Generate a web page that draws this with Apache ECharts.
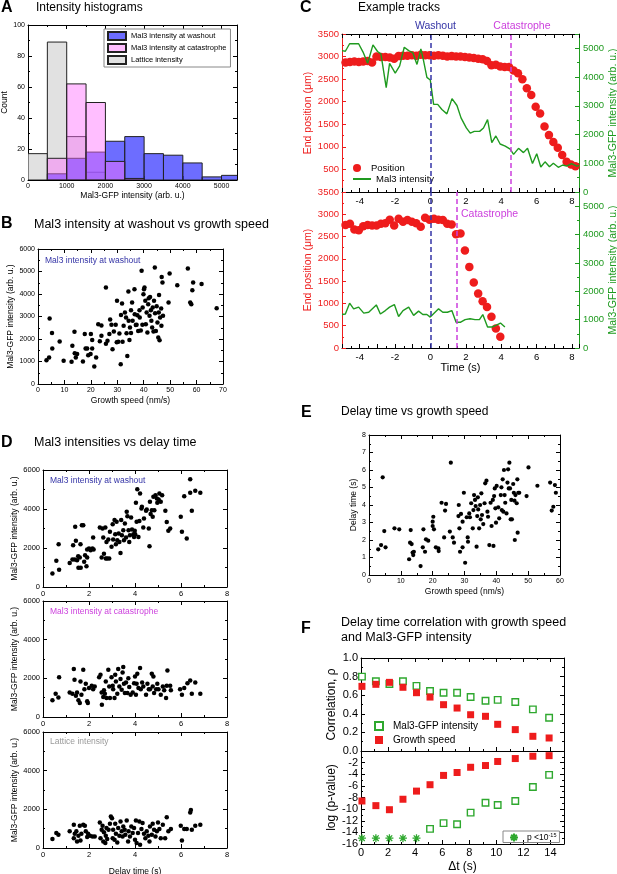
<!DOCTYPE html>
<html>
<head>
<meta charset="utf-8">
<title>Mal3 intensity figure</title>
<script src="https://cdn.jsdelivr.net/npm/echarts@6/dist/echarts.min.js"></script>
<style>
  html, body { margin: 0; padding: 0; background: #fff; }
  #fig { width: 617px; height: 874px; }
</style>
</head>
<body>
<div id="fig"></div>
<script>
var FONT = '"Liberation Sans", Arial, sans-serif';
var RED = '#ee1c1c', GREEN = '#1f9a1f', FGREEN = '#2ea82e', BLUE = '#3434a6', MAGENTA = '#cc3fdd', GRAY = '#9a9a9a';

// A - histograms (bins of 500)
var binLeft  = [0, 500, 1000, 1500, 2000, 2500, 3000, 3500, 4000, 4500, 5000];
var binRight = [500, 1000, 1500, 2000, 2500, 3000, 3500, 4000, 4500, 5000, 5500];
var washoutCounts     = [0, 4, 14, 18, 25, 28, 17, 16, 11, 2, 3];
var catastropheCounts = [0, 14, 62, 50, 12, 1, 0, 0, 0, 0, 0];
var latticeCounts     = [17, 89, 28, 5, 0, 0, 0, 0, 0, 0, 0];

// B - washout intensity vs growth speed
var bWashout = [[3.2,1060],[4.2,1180],[4.4,2910],[5.3,2270],[5.4,1580],[8.2,1890],[9.7,1030],[12.7,990],[13.0,1700],[13.8,2320],[13.9,1370],[14.3,1180],[14.8,1330],[17.0,1000],[17.7,2220],[18.0,1580],[18.6,1580],[19.0,1280],[20.0,2220],[19.9,1330],[20.5,1960],[20.5,1580],[21.3,780],[22.0,1180],[22.8,2660],[24.0,2600],[23.4,1900],[24.0,2140],[25.7,4290],[25.7,1790],[26.3,1920],[27.0,2220],[27.3,2870],[27.8,2630],[28.2,1550],[28.7,2330],[29.4,2630],[29.9,3700],[29.8,1860],[30.4,1880],[30.8,2250],[31.3,880],[31.4,3070],[31.8,3580],[32.0,1880],[32.4,2590],[32.9,3180],[33.3,2960],[33.5,2260],[33.8,1250],[34.2,4110],[34.3,2810],[34.6,1960],[34.8,2510],[35.2,2270],[35.2,3280],[35.6,3620],[35.8,2810],[36.5,4210],[36.6,3100],[37.0,2620],[37.3,2630],[37.6,3060],[37.9,2360],[38.4,3280],[38.5,2960],[38.9,2380],[39.2,5030],[39.5,2630],[39.6,3400],[39.9,3990],[40.1,4210],[40.3,4290],[40.6,3700],[40.8,2660],[41.1,3180],[41.4,2290],[41.7,3550],[41.9,3810],[42.2,3030],[42.4,3870],[42.7,3280],[42.9,2810],[43.2,2510],[43.7,2330],[43.4,3400],[43.9,3700],[44.2,5180],[44.3,3140],[44.6,2360],[44.9,3460],[45.2,2730],[45.5,2070],[45.7,3180],[45.8,3960],[46.0,1950],[46.2,2960],[46.6,3360],[46.8,4760],[47.1,4510],[47.3,3030],[46.7,2590],[49.4,3620],[49.8,4910],[52.7,4390],[56.7,5130],[57.6,3620],[58.0,3550],[58.4,4170],[58.7,4510],[61.9,4440],[67.6,3370]];

// C - example tracks
var cTopPosT = [-4.8,-4.55,-4.3,-4.05,-3.8,-3.55,-3.3,-3.05,-2.8,-2.55,-2.3,-2.05,-1.8,-1.55,-1.3,-1.05,-0.8,-0.55,-0.3,-0.05,0.2,0.45,0.7,0.95,1.2,1.45,1.7,1.95,2.2,2.45,2.7,2.95,3.2,3.45,3.7,3.95,4.2,4.45,4.7,4.95,5.2,5.45,5.7,5.95,6.2,6.45,6.7,6.95,7.2,7.45,7.7,7.95,8.2];
var cTopPos  = [2870,2880,2890,2880,2890,2900,2870,3000,2990,2990,2980,2950,3010,3020,3020,3030,3020,3040,3030,3030,3020,3030,3020,3000,3010,3000,3000,2990,2980,2970,2950,2940,2900,2810,2820,2780,2770,2770,2690,2630,2500,2300,2150,1890,1740,1450,1260,1110,980,820,670,610,570];
var cTopIntT = [-5.0,-4.81,-4.57,-4.06,-3.81,-3.55,-3.25,-2.99,-2.8,-2.5,-2.31,-1.99,-1.74,-1.48,-1.23,-0.99,-0.76,-0.54,-0.39,-0.2,-0.01,0.18,0.41,0.65,0.93,1.22,1.5,1.73,2.03,2.25,2.48,2.78,3.0,3.23,3.47,3.7,3.94,4.23,4.51,4.7,4.98,5.26,5.49,5.77,6.01,6.24,6.48,6.73,6.95,7.23,7.48,7.7,7.98,8.27,8.4];
var cTopInt  = [4920,4900,5160,5160,4870,4480,5120,4890,4810,3630,4480,4140,4390,5040,4920,4840,4440,4980,4570,3990,3900,3050,3050,2870,2720,3250,3010,2580,2230,2050,2110,2110,2230,2520,1720,1950,1670,1600,1490,1310,1520,1370,1520,990,1330,870,1050,880,1000,860,940,900,990,900,920];
var cBotPosT = [-4.8,-4.55,-4.3,-4.05,-3.8,-3.55,-3.3,-3.05,-2.8,-2.55,-2.3,-2.05,-1.8,-1.55,-1.3,-1.05,-0.8,-0.55,-0.3,-0.05,0.2,0.45,0.7,0.95,1.2,1.45,1.7,1.95,2.2,2.45,2.7,2.95,3.2,3.45,3.7,3.95];
var cBotPos  = [2760,2790,2660,2640,2730,2760,2750,2750,2790,2800,2880,2750,2900,2830,2870,2830,2800,2720,2920,2880,2900,2880,2870,2790,2770,2550,2570,2190,1820,1470,1220,1050,920,700,435,250];
var cBotIntT = [-5.0,-4.81,-4.57,-4.34,-4.06,-3.77,-3.49,-3.06,-2.83,-2.55,-2.31,-2.04,-1.8,-1.55,-1.23,-0.95,-0.67,-0.43,-0.2,-0.01,0.46,0.7,0.96,1.21,1.45,1.71,1.96,2.24,2.52,2.77,2.96,3.23,3.47,3.7,3.96,4.21];
var cBotInt  = [1180,1200,1580,1380,1440,1230,1260,1520,1200,1320,1440,1530,1110,1320,1440,1150,1300,1180,1180,1090,1380,1260,1260,1320,910,910,1000,1030,1000,1000,1180,740,740,800,880,740];
var washoutTime = 0, catastropheTop = 4.55, catastropheBottom = 1.5;

// D - intensities vs delay time
var dWashout = [[0.41,690],[0.58,1340],[0.68,2190],[0.7,890],[1.16,1230],[1.28,1410],[1.31,2140],[1.38,1410],[1.4,3090],[1.43,2370],[1.48,1370],[1.53,1580],[1.54,990],[1.6,1510],[1.63,2190],[1.64,990],[1.69,3170],[1.75,3170],[1.79,1290],[1.83,1630],[1.89,1060],[1.92,1510],[1.92,1920],[2.0,1970],[2.07,1890],[2.15,1970],[2.18,2540],[2.2,1920],[2.47,3050],[2.55,1510],[2.59,3000],[2.62,2540],[2.65,1710],[2.71,3050],[2.73,1460],[2.76,2310],[2.79,1460],[2.84,2430],[2.88,1460],[2.91,2830],[2.98,2060],[3.03,3220],[3.05,2430],[3.11,3430],[3.14,2710],[3.17,2190],[3.2,3340],[3.23,2400],[3.29,2740],[3.32,2310],[3.37,1750],[3.4,3430],[3.43,2660],[3.49,2910],[3.52,2400],[3.56,3260],[3.61,2540],[3.64,3860],[3.67,3630],[3.72,2910],[3.75,2310],[3.78,2660],[3.83,3570],[3.87,2950],[3.93,2710],[3.96,2570],[3.99,2880],[4.01,2710],[4.04,4320],[4.07,3340],[4.1,5010],[4.15,2570],[4.19,3390],[4.22,4800],[4.28,4030],[4.3,4110],[4.36,3050],[4.39,3510],[4.48,3910],[4.51,3980],[4.6,3000],[4.63,2090],[4.65,4370],[4.68,3740],[4.73,3940],[4.77,3600],[4.8,4630],[4.84,3940],[4.89,4710],[4.95,4540],[4.97,4320],[5.03,4490],[5.06,4800],[5.12,4370],[5.18,4710],[5.32,3910],[5.38,3330],[5.45,2880],[5.53,3000],[5.99,3600],[6.04,2830],[6.14,4660],[6.25,2490],[6.4,5520],[6.4,4830],[6.47,3910],[6.62,4940],[6.84,4830]];
var dCatastrophe = [[0.41,860],[0.55,1200],[0.67,1010],[0.7,2060],[1.16,1270],[1.28,1200],[1.34,2480],[1.37,1930],[1.43,1100],[1.48,1270],[1.54,860],[1.6,720],[1.63,1840],[1.67,1150],[1.75,2440],[1.8,1440],[1.86,1720],[1.92,810],[1.95,720],[2.0,1500],[2.12,1620],[2.18,1440],[2.25,1580],[2.44,2060],[2.5,2180],[2.55,1270],[2.56,640],[2.62,1030],[2.65,1380],[2.69,1200],[2.73,1840],[2.76,980],[2.84,2440],[2.88,1580],[2.91,980],[2.98,2060],[3.03,1620],[3.05,1440],[3.11,980],[3.14,2180],[3.17,1840],[3.23,1200],[3.27,2480],[3.32,1580],[3.37,1960],[3.42,1410],[3.46,2300],[3.49,2580],[3.52,1720],[3.56,1240],[3.61,1790],[3.67,1240],[3.71,2010],[3.75,1550],[3.81,1150],[3.9,1270],[3.96,1750],[4.0,2100],[4.04,1150],[4.07,1720],[4.1,2240],[4.15,1500],[4.22,2530],[4.25,1440],[4.31,1790],[4.36,1580],[4.48,1150],[4.54,1720],[4.6,1440],[4.65,1440],[4.73,2240],[4.77,1580],[4.8,2100],[4.83,1240],[4.92,1440],[4.97,1720],[5.02,1440],[5.12,1150],[5.21,1580],[5.27,1380],[5.35,980],[5.38,1620],[5.41,2410],[5.53,1620],[5.56,1380],[5.96,1440],[6.04,1150],[6.14,1500],[6.28,1750],[6.4,1890],[6.47,1200],[6.62,1790],[6.84,1200]];
var dLattice = [[0.41,460],[0.58,770],[0.67,690],[1.16,860],[1.34,1200],[1.34,510],[1.38,740],[1.45,860],[1.48,340],[1.54,630],[1.6,1150],[1.63,390],[1.67,740],[1.75,1200],[1.82,1150],[1.86,860],[1.92,570],[1.96,740],[2.04,630],[2.15,600],[2.25,600],[2.47,1320],[2.5,510],[2.55,940],[2.59,1150],[2.62,340],[2.65,810],[2.71,260],[2.73,630],[2.76,1030],[2.79,460],[2.85,940],[2.91,1250],[2.95,1630],[3.0,1540],[3.03,510],[3.05,940],[3.11,430],[3.14,1250],[3.17,740],[3.23,290],[3.27,1030],[3.32,630],[3.37,1370],[3.42,860],[3.46,600],[3.49,1110],[3.55,940],[3.58,690],[3.64,1420],[3.7,340],[3.72,860],[3.78,600],[3.84,1110],[3.9,770],[3.96,1030],[4.0,430],[4.04,1420],[4.07,260],[4.13,770],[4.19,1370],[4.22,170],[4.28,980],[4.33,1290],[4.39,740],[4.45,510],[4.51,860],[4.58,630],[4.63,340],[4.65,1110],[4.73,690],[4.77,1250],[4.83,940],[4.89,600],[4.95,860],[5.0,1320],[5.06,980],[5.12,510],[5.21,1200],[5.31,510],[5.38,1590],[5.45,860],[5.56,980],[5.99,1150],[6.04,390],[6.14,980],[6.25,980],[6.4,1830],[6.43,1970],[6.47,940],[6.62,1150],[6.84,1200]];

// E - delay time vs growth speed
var eDelay = [[2.9,1.47],[3.8,1.71],[4.3,5.58],[4.8,2.51],[5.2,1.58],[8.0,2.67],[9.5,2.61],[12.6,0.9],[13.1,2.57],[12.9,1.85],[13.4,1.77],[13.7,1.28],[13.9,1.14],[14.1,1.33],[16.2,0.51],[16.9,1.58],[17.1,2.61],[17.6,1.33],[17.9,2.04],[18.6,1.96],[20.0,2.8],[20.0,3.05],[20.2,3.33],[20.4,2.61],[21.0,1.58],[21.8,1.52],[21.9,1.37],[22.8,4.13],[23.6,2.15],[23.9,3.68],[24.2,4.06],[25.7,6.42],[25.4,2.48],[26.3,2.15],[26.7,1.85],[28.1,3.37],[28.2,4.0],[28.4,2.67],[28.6,1.33],[28.9,3.49],[29.4,1.58],[29.4,3.05],[29.8,4.7],[30.2,0.7],[30.7,3.3],[31.0,2.15],[31.1,1.9],[31.5,3.52],[31.7,3.3],[32.1,4.1],[32.6,2.67],[32.8,3.71],[33.0,4.57],[33.3,4.29],[33.5,3.94],[33.8,1.62],[34.0,3.37],[34.2,4.44],[34.3,3.75],[34.6,2.67],[34.9,4.0],[35.1,3.18],[35.3,4.67],[35.5,3.43],[35.9,2.91],[36.3,4.1],[36.5,5.24],[36.9,5.39],[37.2,3.62],[37.4,3.33],[37.8,1.71],[38.2,4.13],[38.5,2.8],[38.9,4.29],[39.1,1.66],[39.3,4.51],[39.5,4.95],[39.7,3.81],[39.9,2.99],[40.1,5.09],[40.6,3.87],[40.9,3.24],[41.4,4.57],[41.6,5.01],[41.7,3.71],[42.0,5.47],[42.2,3.62],[42.4,6.0],[42.6,4.57],[42.8,4.13],[43.2,3.52],[43.5,5.28],[43.7,6.04],[43.9,4.95],[44.1,6.42],[44.3,4.95],[44.5,3.18],[44.7,4.29],[44.9,3.18],[45.3,5.2],[45.5,4.7],[45.7,4.25],[45.8,2.0],[46.0,4.57],[46.4,4.1],[46.6,5.47],[46.7,2.42],[46.9,4.7],[47.2,4.7],[49.5,4.51],[50.1,6.15],[52.9,5.1],[56.9,5.28],[57.4,3.68],[57.9,3.9],[58.4,5.14],[58.7,4.7]];

// F - correlation vs delta t
var fDt          = [0.07, 1.1, 2.1, 3.1, 4.1, 5.1, 6.1, 7.1, 8.1, 9.2, 10.1, 11.4, 12.7, 13.9];
var fRhoIntens   = [0.80, 0.75, 0.72, 0.75, 0.70, 0.645, 0.627, 0.627, 0.58, 0.54, 0.55, 0.527, 0.448, 0.358];
var fRhoSpeed    = [0.695, 0.717, 0.738, 0.685, 0.627, 0.58, 0.498, 0.462, 0.39, 0.373, 0.287, 0.23, 0.158, 0.14];
var fLogpSpeed   = [-8.6, -9.4, -10.1, -8.3, -6.9, -5.8, -4.2, -3.7, -2.8, -2.5, -1.8, -1.3, -0.9, -0.8];
var fLogpIntens  = [null, null, null, null, null, -13.4, -12.4, -12.6, -10.6, -8.9, -9.3, -8.6, -6.2, -4.1];
var fBelowLimitDt = [0.07, 1.1, 2.1, 3.1, 4.1];
var fBelowLimitLogp = [-15, -15, -15, -15, -15];

function zip(a, b) {
  var out = [];
  a.forEach(function (v, i) { if (b[i] !== null) out.push([v, b[i]]); });
  return out;
}
// show a tick label only on multiples of step (no thousands separator)
function only(step, fmt, skip) {
  return function (v) {
    var k = v / step;
    if (Math.abs(k - Math.round(k)) > 1e-6) return '';
    if (skip && skip.indexOf(v) >= 0) return '';
    return fmt ? fmt(v) : String(v);
  };
}
function plain(v) { return String(v); }

var grids = [
  {left: 28,  top: 25,  width: 209, height: 155},  // A
  {left: 38,  top: 249, width: 185, height: 135},  // B
  {left: 342, top: 34,  width: 237, height: 158},  // C top
  {left: 342, top: 192, width: 237, height: 156},  // C bottom
  {left: 43,  top: 470, width: 184, height: 117},  // D1
  {left: 43,  top: 601, width: 184, height: 116},  // D2
  {left: 43,  top: 732, width: 184, height: 116},  // D3
  {left: 369, top: 435, width: 191, height: 140},  // E
  {left: 361, top: 658, width: 203, height: 93},   // F top
  {left: 361, top: 751, width: 203, height: 93}    // F bottom
].map(function (g) { return Object.assign({outerBoundsMode: 'none', containLabel: false}, g); });

var xAxes = [], yAxes = [];
function addAxis(list, g, pos, o) {
  var c = o.color || '#000';
  var lc = o.lineColor || c;
  list.push({
    type: 'value', gridIndex: g, position: pos,
    min: o.min, max: o.max, interval: o.iv,
    axisLine: {show: true, onZero: false, lineStyle: {color: lc, width: 1}},
    axisTick: {show: true, inside: true, length: 4, lineStyle: {color: lc}},
    minorTick: {show: true, splitNumber: o.minor || 2, length: 2, lineStyle: {color: lc}},
    splitLine: {show: false},
    axisLabel: {show: !!o.fs, fontSize: o.fs || 8, color: c, fontFamily: FONT, margin: o.margin || 3,
                formatter: o.fmt || plain},
    name: o.name || '', nameLocation: 'middle', nameGap: o.gap || 0,
    nameTextStyle: {fontSize: o.nfs || 9, color: c, fontFamily: FONT}
  });
  return list.length - 1;
}
// a plot box: labelled bottom/left axes and tick-only mirrors
function box(g, xo, yo, mirrorTop, mirrorRight) {
  var r = {};
  r.x = addAxis(xAxes, g, 'bottom', xo);
  if (mirrorTop) addAxis(xAxes, g, 'top', {min: xo.min, max: xo.max, iv: xo.iv, minor: xo.minor});
  r.y = addAxis(yAxes, g, 'left', yo);
  if (mirrorRight) addAxis(yAxes, g, 'right', {min: yo.min, max: yo.max, iv: yo.iv, minor: yo.minor});
  return r;
}

var axA = box(0, {min: 0, max: 5400, iv: 1000, fs: 7, fmt: only(1000), name: 'Mal3-GFP intensity (arb. u.)', nfs: 8.5, gap: 11},
                 {min: 0, max: 100, iv: 20, fs: 7, name: 'Count', nfs: 8.5, gap: 15}, true, true);
var axB = box(1, {min: 0, max: 70, iv: 10, fs: 7, name: 'Growth speed (nm/s)', nfs: 8.5, gap: 12},
                 {min: 0, max: 6000, iv: 1000, fs: 7, name: 'Mal3-GFP intensity (arb. u.)', nfs: 8.5, gap: 19}, true, true);
var axC1 = box(2, {min: -5, max: 8.4, iv: 1, fs: 9.5, fmt: only(2), margin: 4},
                  {min: 0, max: 3500, iv: 500, fs: 9.5, color: RED, fmt: only(500, null, [0]), name: 'End position (\u03bcm)', nfs: 10.5, gap: 26}, true, false);
axC1.yr = addAxis(yAxes, 2, 'right', {min: 0, max: 5500, iv: 1000, fs: 9.5, color: GREEN, fmt: only(1000), name: 'Mal3-GFP intensity (arb. u.)', nfs: 10.5, gap: 27, margin: 4});
var axC2 = box(3, {min: -5, max: 8.4, iv: 1, fs: 9.5, fmt: only(2), margin: 4, name: 'Time (s)', nfs: 11, gap: 14},
                  {min: 0, max: 3500, iv: 500, fs: 9.5, color: RED, name: 'End position (\u03bcm)', nfs: 10.5, gap: 26}, false, false);
axC2.yr = addAxis(yAxes, 3, 'right', {min: 0, max: 5500, iv: 1000, fs: 9.5, color: GREEN, fmt: only(1000), name: 'Mal3-GFP intensity (arb. u.)', nfs: 10.5, gap: 27, margin: 4});
var dY = {min: 0, max: 6000, iv: 2000, fs: 7.5, name: 'Mal3-GFP intensity (arb. u.)', nfs: 8.5, gap: 22};
var axD1 = box(4, {min: 0, max: 8, iv: 2, fs: 7.5}, dY, true, true);
var axD2 = box(5, {min: 0, max: 8, iv: 2, fs: 7.5}, dY, true, true);
var axD3 = box(6, {min: 0, max: 8, iv: 2, fs: 7.5, name: 'Delay time (s)', nfs: 8.5, gap: 19}, dY, true, true);
var axE = box(7, {min: 0, max: 60, iv: 10, fs: 7, name: 'Growth speed (nm/s)', nfs: 8.5, gap: 12},
                 {min: 0, max: 8, iv: 1, fs: 7, name: 'Delay time (s)', nfs: 8.5, gap: 11}, true, true);
var axF1 = box(8, {min: 0, max: 15, iv: 2},
                  {min: 0, max: 1, iv: 0.2, fs: 11, fmt: function (v) { return v.toFixed(1); }, name: 'Correlation, \u03c1', nfs: 12, gap: 23}, true, true);
var axF2 = box(9, {min: 0, max: 15, iv: 2, fs: 11, fmt: only(2), name: '\u0394t (s)', nfs: 12, gap: 17},
                  {min: -16, max: 0, iv: 2, fs: 11, fmt: only(2, null, [0]), name: 'log (p-value)', nfs: 12, gap: 23}, false, true);

function histSeries(name, counts, fill) {
  return {
    type: 'custom', name: name, xAxisIndex: axA.x, yAxisIndex: axA.y, clip: true,
    itemStyle: {color: fill, borderColor: '#222', borderWidth: 1},
    encode: {x: [0, 1], y: 2},
    data: binLeft.map(function (l, i) { return [l, binRight[i], counts[i]]; }),
    renderItem: function (params, api) {
      if (!api.value(2)) return {type: 'group', children: []};
      var a = api.coord([api.value(0), api.value(2)]);
      var b = api.coord([api.value(1), 0]);
      return {type: 'rect', shape: {x: a[0], y: a[1], width: b[0] - a[0], height: b[1] - a[1]},
              style: {fill: fill, stroke: '#222', lineWidth: 1}};
    }
  };
}
function dots(data, ax, size) {
  return {type: 'scatter', xAxisIndex: ax.x, yAxisIndex: ax.y, symbolSize: size || 4.5,
          itemStyle: {color: '#000', opacity: 1}, data: data};
}
function vline(x, color, label) {
  var item = {xAxis: x, lineStyle: {color: color, type: [5, 3], width: 1.5}, label: {show: false}};
  if (label) item.label = label;
  return item;
}
var openSquare = {color: '#fff', borderColor: FGREEN, borderWidth: 1.4, opacity: 1};
var asterisk = 'path://M5 0L5 10M0 5L10 5M1.5 1.5L8.5 8.5M1.5 8.5L8.5 1.5';

var series = [
  histSeries('Lattice intensity', latticeCounts, '#e1e1e1'),
  histSeries('Mal3 intensity at washout', washoutCounts, 'rgba(60,60,255,0.75)'),
  histSeries('Mal3 intensity at catastrophe', catastropheCounts, 'rgba(255,110,255,0.45)'),
  dots(bWashout, axB),
  // C top
  {type: 'line', name: 'Mal3 intensity', xAxisIndex: axC1.x, yAxisIndex: axC1.yr, symbol: 'none',
   lineStyle: {color: GREEN, width: 1.4}, itemStyle: {color: GREEN}, data: zip(cTopIntT, cTopInt)},
  {type: 'scatter', name: 'Position', xAxisIndex: axC1.x, yAxisIndex: axC1.y, symbolSize: 8.5,
   itemStyle: {color: RED, opacity: 1}, data: zip(cTopPosT, cTopPos),
   markLine: {silent: true, symbol: ['none', 'none'], animation: false, data: [
     vline(washoutTime, BLUE, {show: true, position: 'end', formatter: 'Washout', color: BLUE, fontSize: 10.5, fontFamily: FONT, distance: 2, padding: [0, 0, 0, 10]}),
     vline(catastropheTop, MAGENTA, {show: true, position: 'end', formatter: 'Catastrophe', color: MAGENTA, fontSize: 10.5, fontFamily: FONT, distance: 2, padding: [0, 0, 0, 22]})
   ]}},
  // C bottom
  {type: 'line', name: 'Mal3 intensity', xAxisIndex: axC2.x, yAxisIndex: axC2.yr, symbol: 'none',
   lineStyle: {color: GREEN, width: 1.4}, itemStyle: {color: GREEN}, data: zip(cBotIntT, cBotInt)},
  {type: 'scatter', name: 'Position', xAxisIndex: axC2.x, yAxisIndex: axC2.y, symbolSize: 8.5,
   itemStyle: {color: RED, opacity: 1}, data: zip(cBotPosT, cBotPos),
   markLine: {silent: true, symbol: ['none', 'none'], animation: false, data: [
     vline(washoutTime, BLUE), vline(catastropheBottom, MAGENTA)
   ]}},
  dots(dWashout, axD1),
  dots(dCatastrophe, axD2),
  dots(dLattice, axD3),
  dots(eDelay, axE, 4.2),
  // F
  {type: 'scatter', name: 'Mal3-GFP intensity', xAxisIndex: axF1.x, yAxisIndex: axF1.y, symbol: 'rect', symbolSize: 6.5,
   itemStyle: openSquare, data: zip(fDt, fRhoIntens)},
  {type: 'scatter', name: 'Growth speed', xAxisIndex: axF1.x, yAxisIndex: axF1.y, symbol: 'rect', symbolSize: 7,
   itemStyle: {color: RED, opacity: 1}, data: zip(fDt, fRhoSpeed)},
  {type: 'scatter', name: 'Growth speed', xAxisIndex: axF2.x, yAxisIndex: axF2.y, symbol: 'rect', symbolSize: 7,
   itemStyle: {color: RED, opacity: 1}, data: zip(fDt, fLogpSpeed)},
  {type: 'scatter', name: 'Mal3-GFP intensity', xAxisIndex: axF2.x, yAxisIndex: axF2.y, symbol: 'rect', symbolSize: 6.5,
   itemStyle: openSquare, data: zip(fDt, fLogpIntens)},
  {type: 'scatter', name: 'p<limit', xAxisIndex: axF2.x, yAxisIndex: axF2.y, symbol: asterisk, symbolSize: 8,
   itemStyle: {color: 'transparent', borderColor: FGREEN, borderWidth: 1.3, opacity: 1}, data: zip(fBelowLimitDt, fBelowLimitLogp)}
];

function txt(text, left, top, size, extra) {
  return {text: text, left: left, top: top, padding: 0,
          textStyle: Object.assign({fontSize: size, fontWeight: 'normal', color: '#000', fontFamily: FONT}, extra || {})};
}
var titles = [
  txt('A', 1, 0, 16, {fontWeight: 'bold'}),
  txt('Intensity histograms', 36, 2, 12),
  txt('B', 1, 216, 16, {fontWeight: 'bold'}),
  txt('Mal3 intensity at washout vs growth speed', 34, 218, 12.5),
  txt('C', 300, 0, 16, {fontWeight: 'bold'}),
  txt('Example tracks', 358, 2, 12),
  txt('D', 1, 435, 16, {fontWeight: 'bold'}),
  txt('Mal3 intensities vs delay time', 34, 436, 12.5),
  txt('E', 301, 405, 16, {fontWeight: 'bold'}),
  txt('Delay time vs growth speed', 341, 406, 12),
  txt('F', 301, 621, 16, {fontWeight: 'bold'}),
  txt('Delay time correlation with growth speed\nand Mal3-GFP intensity', 341, 615, 12.5, {lineHeight: 15}),
  txt('Mal3 intensity at washout', 45, 256, 8.5, {color: BLUE}),
  txt('Mal3 intensity at washout', 50, 476, 8.5, {color: BLUE}),
  txt('Mal3 intensity at catastrophe', 50, 607, 8.5, {color: MAGENTA}),
  txt('Lattice intensity', 50, 737, 8.5, {color: GRAY}),
  txt('Catastrophe', 461, 209, 10.5, {color: MAGENTA})
];

var legendText = {fontSize: 9.5, color: '#000', fontFamily: FONT};
var legends = [
  {data: [{name: 'Mal3 intensity at washout', icon: 'rect'}, {name: 'Mal3 intensity at catastrophe', icon: 'rect'}, {name: 'Lattice intensity', icon: 'rect'}],
   left: 104, top: 29, orient: 'vertical', itemWidth: 18, itemHeight: 8, itemGap: 2, padding: [2, 4, 2, 3],
   borderColor: '#888', borderWidth: 1, backgroundColor: '#fff', selectedMode: false,
   textStyle: {fontSize: 7.5, color: '#000', fontFamily: FONT}},
  {data: [{name: 'Position', icon: 'circle'}], left: 353, top: 163, itemWidth: 18, itemHeight: 8,
   padding: 0, selectedMode: false, textStyle: legendText},
  {data: [{name: 'Mal3 intensity', icon: 'rect'}], left: 353, top: 174, itemWidth: 18, itemHeight: 2,
   padding: 0, selectedMode: false, textStyle: legendText},
  {data: [{name: 'Mal3-GFP intensity', icon: 'rect'}, {name: 'Growth speed', icon: 'rect'}], left: 374, top: 721, orient: 'vertical',
   itemWidth: 8, itemHeight: 8, itemGap: 4, padding: 0, selectedMode: false,
   textStyle: {fontSize: 10, color: '#000', fontFamily: FONT, padding: [0, 0, 0, 5]}},
  {data: [{name: 'p<limit', icon: asterisk}], left: 503, top: 831, itemWidth: 8, itemHeight: 8, padding: [1, 3, 0, 6],
   borderColor: '#888', borderWidth: 1, selectedMode: false,
   formatter: function () { return 'p <10{s|-15}'; },
   textStyle: {fontSize: 8.5, color: '#000', fontFamily: FONT, padding: [0, 0, 0, 4],
               rich: {s: {fontSize: 5.5, fontFamily: FONT, padding: [0, 0, 5, 0]}}}}
];

var chart = echarts.init(document.getElementById('fig'), null, {renderer: 'canvas'});
chart.setOption({
  animation: false,
  backgroundColor: '#fff',
  textStyle: {fontFamily: FONT},
  title: titles,
  legend: legends,
  grid: grids,
  xAxis: xAxes,
  yAxis: yAxes,
  series: series
});
</script>
</body>
</html>
